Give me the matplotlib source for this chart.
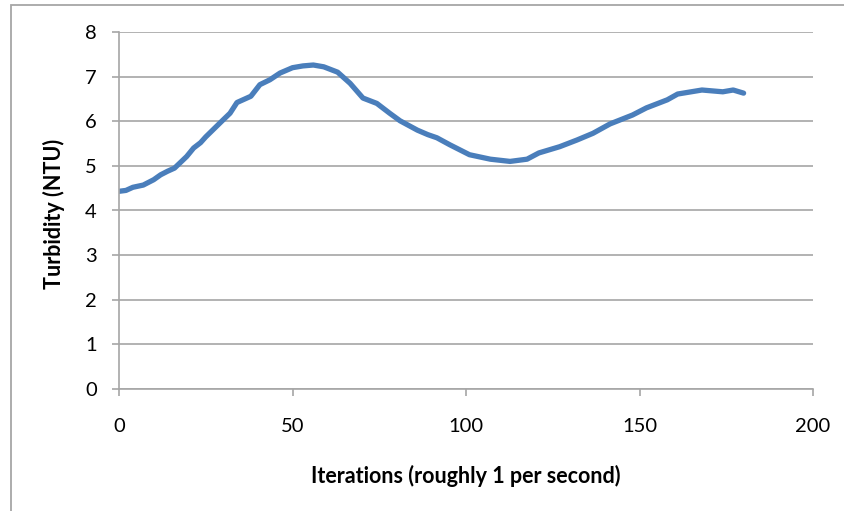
import matplotlib.pyplot as plt
from matplotlib.patches import Rectangle

# turbidity readings
iterations = [0, 2, 4, 7, 10, 12, 14, 16, 19.5, 21.5, 23.5, 25, 30, 32, 34, 38,
              40.6, 43.5, 46.4, 50, 53, 56, 59, 63, 66.6, 70.3, 74.3, 78, 81, 86,
              89, 91.6, 95.4, 101, 107, 112.7, 117.6, 121, 127, 132, 136.6, 141.5,
              148, 152, 158, 161, 168, 174, 177, 180]
turbidity = [4.43, 4.45, 4.52, 4.57, 4.69, 4.80, 4.88, 4.95, 5.21, 5.40, 5.52, 5.65,
             6.03, 6.18, 6.42, 6.56, 6.82, 6.93, 7.08, 7.20, 7.24, 7.26, 7.22, 7.10,
             6.85, 6.52, 6.40, 6.18, 6.01, 5.80, 5.70, 5.63, 5.47, 5.25, 5.15, 5.10,
             5.15, 5.29, 5.43, 5.58, 5.73, 5.94, 6.14, 6.30, 6.48, 6.61, 6.70, 6.66,
             6.70, 6.63]
x_ticks = [0, 50, 100, 150, 200]
y_ticks = [0, 1, 2, 3, 4, 5, 6, 7, 8]

plt.rcParams['font.family'] = ['Lato', 'DejaVu Sans']
grid_col = '#a6a6a6'

fig = plt.figure(figsize=(8.44, 5.11), dpi=100)
# chart frame, cut off on the right and bottom like the screenshot
fig.patches.append(Rectangle((11 / 844, -0.2), 1.2, 1.2 - 5 / 511,
                             transform=fig.transFigure, fill=False,
                             edgecolor=grid_col, linewidth=1.3))
ax = fig.add_axes([119 / 844, 122 / 511, 694 / 844, 357 / 511])

ax.plot(iterations, turbidity, color='#4a7ebb', linewidth=3.8,
        solid_capstyle='round', solid_joinstyle='round')

ax.set_xlim(0, 200)
ax.set_ylim(0, 8)
ax.set_xticks(x_ticks)
ax.set_yticks(y_ticks)
ax.yaxis.grid(True, color=grid_col, linewidth=1.2)
ax.set_axisbelow(True)
for s in ['top', 'right']:
    ax.spines[s].set_visible(False)
for s in ['left', 'bottom']:
    ax.spines[s].set_color(grid_col)
    ax.spines[s].set_linewidth(1.2)
ax.tick_params(axis='y', length=5, width=1.2, color=grid_col, pad=11, labelsize=14.5)
ax.tick_params(axis='x', length=5, width=1.2, color=grid_col, pad=16, labelsize=14.5)

ax.set_xlabel('Iterations (roughly 1 per second)', fontsize=15.5, fontweight='bold')
ax.set_ylabel('Turbidity (NTU)', fontsize=15.5, fontweight='bold')
ax.xaxis.set_label_coords(0.5, -0.212)
ax.yaxis.set_label_coords(-0.078, 0.49)

fig.savefig('out.png', dpi=100)
